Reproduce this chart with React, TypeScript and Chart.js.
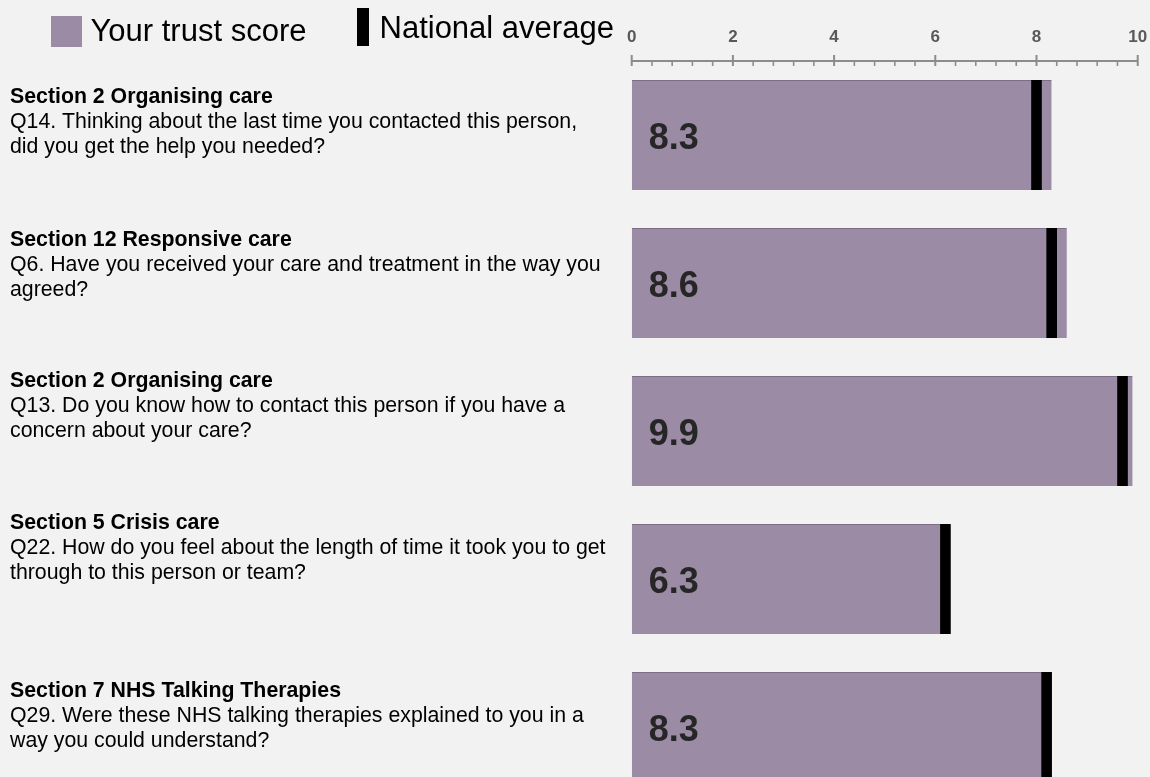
import React, { useEffect, useRef } from 'react';
import { Chart, registerables } from 'chart.js';

Chart.register(...registerables);

// ---------- data ----------
const sections = [
  'Section 2 Organising care',
  'Section 12 Responsive care',
  'Section 2 Organising care',
  'Section 5 Crisis care',
  'Section 7 NHS Talking Therapies',
];
const questions = [
  ['Q14. Thinking about the last time you contacted this person,', 'did you get the help you needed?'],
  ['Q6. Have you received your care and treatment in the way you', 'agreed?'],
  ['Q13. Do you know how to contact this person if you have a', 'concern about your care?'],
  ['Q22. How do you feel about the length of time it took you to get', 'through to this person or team?'],
  ['Q29. Were these NHS talking therapies explained to you in a', 'way you could understand?'],
];
const trustScores = [8.3, 8.6, 9.9, 6.3, 8.3];
const nationalAverages = [8.0, 8.3, 9.7, 6.2, 8.2];
const axisMin = 0;
const axisMax = 10;
const axisStep = 2;
const legendLabels = ['Your trust score', 'National average'];

// ---------- style ----------
const FONT = "'Liberation Sans', Arial, Helvetica, sans-serif";
const BG = '#f2f2f2';
const PURPLE = '#9b8ba5';
const MARKER_HALF = 0.105;
const LABEL_OFFSETS = [-32, -37, -44, -50, -30];

const overlayPlugin = {
  id: 'overlay',
  beforeDraw(chart: any) {
    const { ctx, width, height } = chart;
    ctx.save();
    ctx.fillStyle = BG;
    ctx.fillRect(0, 0, width, height);
    ctx.restore();
  },
  afterDatasetsDraw(chart: any) {
    const ctx = chart.ctx;
    const xs = chart.scales.x;
    const ys = chart.scales.y;
    const top = chart.chartArea.top;
    ctx.save();

    // axis line + ticks
    ctx.strokeStyle = '#8c8c8c';
    ctx.lineWidth = 2;
    ctx.beginPath();
    ctx.moveTo(xs.getPixelForValue(axisMin), top);
    ctx.lineTo(xs.getPixelForValue(axisMax), top);
    ctx.stroke();
    const minorPerMajor = 5;
    const nMinor = ((axisMax - axisMin) / axisStep) * minorPerMajor;
    for (let i = 0; i <= nMinor; i++) {
      const v = axisMin + (i * axisStep) / minorPerMajor;
      const px = xs.getPixelForValue(v);
      const major = i % minorPerMajor === 0;
      ctx.lineWidth = major ? 2 : 1.6;
      ctx.beginPath();
      ctx.moveTo(px, major ? top - 6 : top);
      ctx.lineTo(px, top + 5);
      ctx.stroke();
    }

    // value labels inside bars
    ctx.fillStyle = '#262626';
    ctx.font = `bold 36px ${FONT}`;
    ctx.textBaseline = 'alphabetic';
    ctx.textAlign = 'left';
    trustScores.forEach((v, i) => {
      const yc = ys.getPixelForValue(i);
      ctx.fillText(v.toFixed(1), xs.getPixelForValue(axisMin) + 17, yc + 14);
    });

    // left labels
    ctx.fillStyle = '#000';
    sections.forEach((s, i) => {
      const yc = ys.getPixelForValue(i);
      const base = yc + LABEL_OFFSETS[i];
      ctx.font = `bold 21.3px ${FONT}`;
      ctx.fillText(s, 10, base);
      ctx.font = `21.3px ${FONT}`;
      questions[i].forEach((line, j) => {
        ctx.fillText(line, 10, base + 25 * (j + 1));
      });
    });

    // legend
    ctx.fillStyle = PURPLE;
    ctx.fillRect(51, 16, 31, 31);
    ctx.fillStyle = '#000';
    ctx.fillRect(357, 8, 12, 38);
    ctx.font = `31px ${FONT}`;
    ctx.fillText(legendLabels[0], 90.5, 40.5);
    ctx.fillText(legendLabels[1], 379.5, 37.5);

    ctx.restore();
  },
};

export default function App() {
  const canvasRef = useRef<HTMLCanvasElement | null>(null);

  useEffect(() => {
    document.body.style.margin = '0';
    document.body.style.background = BG;
    const canvas = canvasRef.current;
    if (!canvas) return;
    const chart = new Chart(canvas, {
      type: 'bar',
      data: {
        labels: sections,
        datasets: [
          {
            label: legendLabels[1],
            data: nationalAverages.map((v) => [v - MARKER_HALF, v + MARKER_HALF]) as any,
            backgroundColor: '#000000',
            borderWidth: 0,
            grouped: false,
            order: 1,
            barPercentage: 0.743,
            categoryPercentage: 1,
          },
          {
            label: legendLabels[0],
            data: trustScores,
            backgroundColor: PURPLE,
            borderColor: '#7d6e88',
            borderWidth: { top: 1, bottom: 0, left: 0, right: 0 } as any,
            borderSkipped: false,
            grouped: false,
            order: 2,
            barPercentage: 0.743,
            categoryPercentage: 1,
          },
        ],
      },
      options: {
        indexAxis: 'y',
        animation: false,
        responsive: true,
        maintainAspectRatio: false,
        layout: { padding: { left: 631.7, right: 12.3, top: 13, bottom: 9 } },
        plugins: {
          legend: { display: false },
          tooltip: { enabled: false },
        },
        scales: {
          x: {
            position: 'top',
            min: axisMin,
            max: axisMax,
            ticks: {
              stepSize: axisStep,
              color: '#595959',
              font: { family: FONT, size: 17, weight: 'bold', lineHeight: '48px' },
              padding: 0,
            },
            grid: { display: false, drawTicks: false },
            border: { display: false },
          },
          y: {
            display: false,
            offset: true,
          },
        },
      },
      plugins: [overlayPlugin],
    });
    return () => chart.destroy();
  }, []);

  return (
    <div style={{ width: 1150, height: 777, overflow: 'hidden', position: 'relative', background: BG }}>
      <div style={{ width: 1150, height: 810, position: 'relative' }}>
        <canvas ref={canvasRef} />
      </div>
    </div>
  );
}
